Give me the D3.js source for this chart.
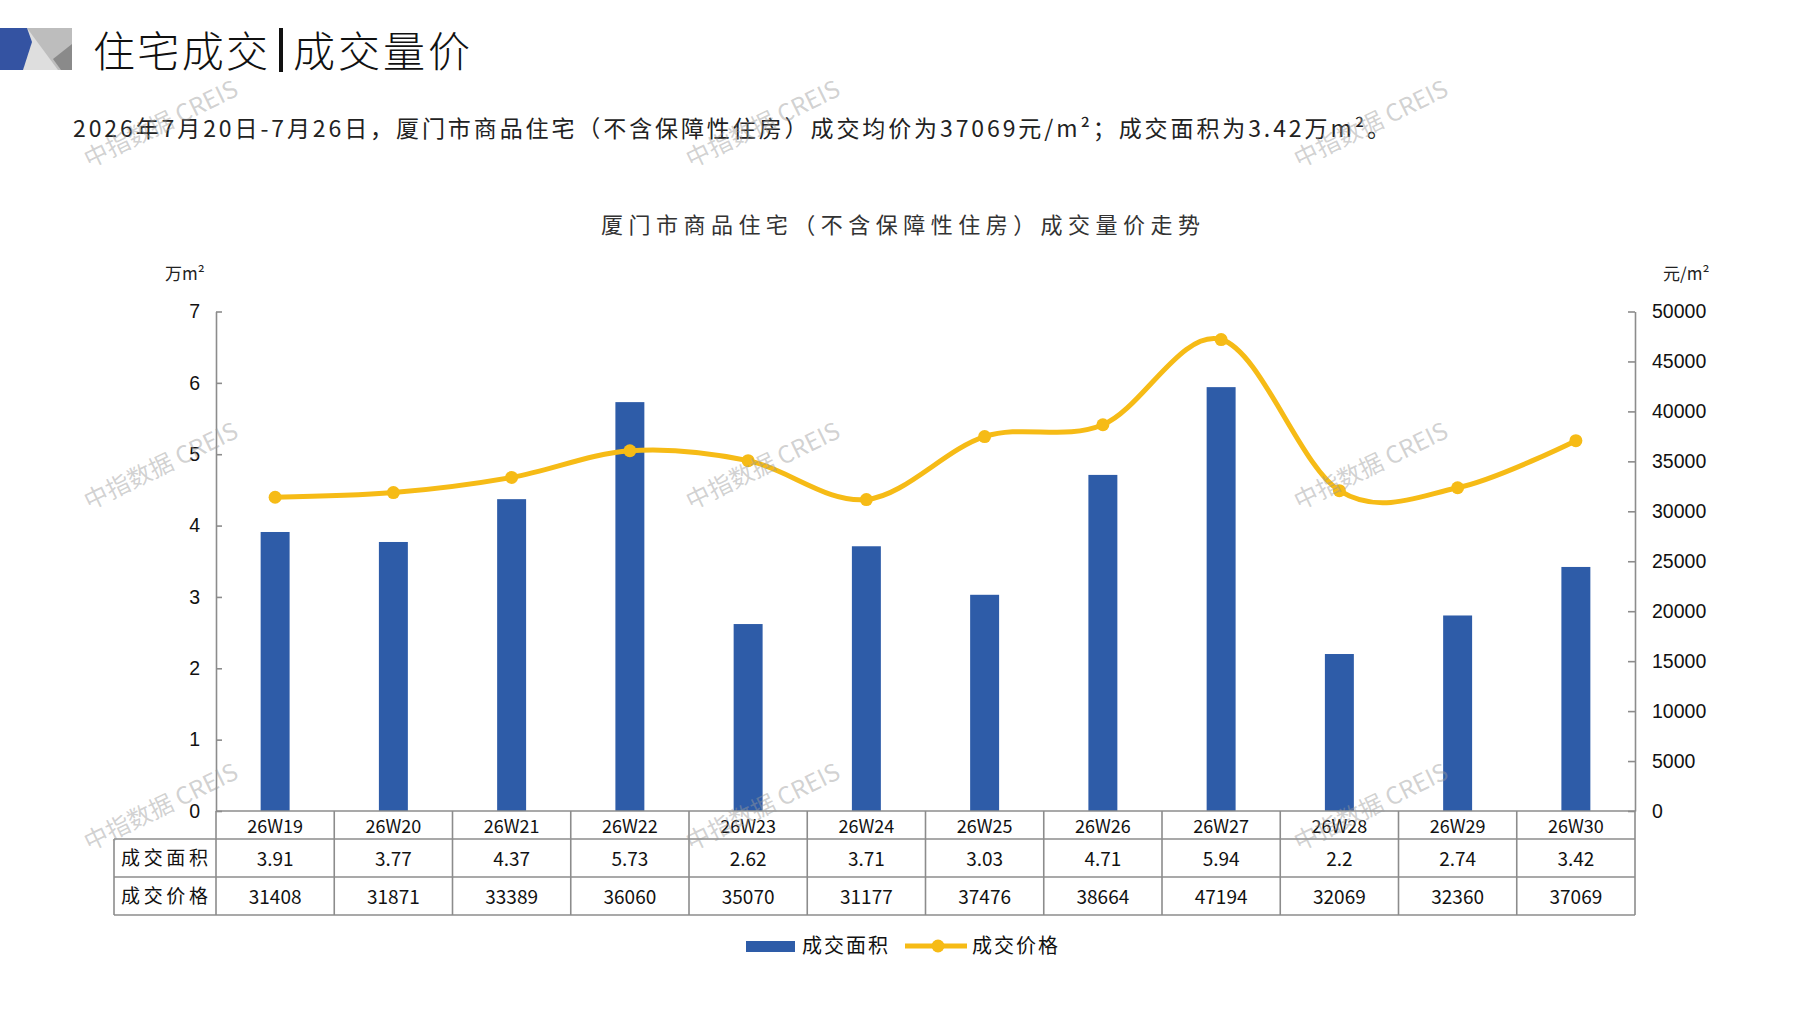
<!DOCTYPE html>
<html>
<head>
<meta charset="utf-8">
<script src="https://cdn.jsdelivr.net/npm/d3@7"></script>
<style>
body { margin: 0; background: #fff; }
svg { display: block; }
</style>
</head>
<body>
<svg id="chart" width="1797" height="1010"></svg>
<script>
// data (table under the chart)
var weeks = ["26W19", "26W20", "26W21", "26W22", "26W23", "26W24", "26W25", "26W26", "26W27", "26W28", "26W29", "26W30"];
var area = [3.91, 3.77, 4.37, 5.73, 2.62, 3.71, 3.03, 4.71, 5.94, 2.2, 2.74, 3.42];
var price = [31408, 31871, 33389, 36060, 35070, 31177, 37476, 38664, 47194, 32069, 32360, 37069];
var areaTicks = [0, 1, 2, 3, 4, 5, 6, 7];
var priceTicks = [0, 5000, 10000, 15000, 20000, 25000, 30000, 35000, 40000, 45000, 50000];
var rowNames = ["成交面积", "成交价格"];
var seriesNames = ["成交面积", "成交价格"];

var blue = "#2e5ca8", yellow = "#f6bb16", grid = "#8c8c8c";
var cjk = "'Noto Sans CJK SC', 'Noto Sans', sans-serif";
var latin = "'Liberation Sans', Arial, sans-serif";

var svg = d3.select("#chart");

// plot box
var plotL = 216, plotR = 1635, plotT = 311.5, plotB = 811;
var rowH = [28, 38, 38];          // category row, area row, price row
var tableLeft = 114;

var x = d3.scaleBand().domain(weeks).range([plotL, plotR]).padding(0);
var bw = x.bandwidth();
var yL = d3.scaleLinear().domain([0, 7]).range([plotB, plotT]);
var yR = d3.scaleLinear().domain([0, 50000]).range([plotB, plotT]);

// ---- header ----
var logo = svg.append("g");
logo.append("rect").attr("x", 22).attr("y", 28).attr("width", 50).attr("height", 42).attr("fill", "#bdbdbd");
logo.append("polygon").attr("points", "22,28 27,28 58,70 22,70").attr("fill", "#dedede");
logo.append("polygon").attr("points", "72,44 72,70 61,70 53,59").attr("fill", "#8a8a8a");
logo.append("polygon").attr("points", "0,28 27,28 32,42 23,70 0,70").attr("fill", "#3453a2");

svg.append("text").attr("x", 93).attr("y", 48)
  .attr("dominant-baseline", "central")
  .attr("textLength", 175).attr("lengthAdjust", "spacing")
  .style("font-family", cjk).style("font-size", "42px").style("font-weight", 300).attr("fill", "#111")
  .text("住宅成交");
svg.append("rect").attr("x", 279).attr("y", 28).attr("width", 4).attr("height", 44).attr("fill", "#111");
svg.append("text").attr("x", 293).attr("y", 48)
  .attr("dominant-baseline", "central")
  .attr("textLength", 177).attr("lengthAdjust", "spacing")
  .style("font-family", cjk).style("font-size", "42px").style("font-weight", 300).attr("fill", "#111")
  .text("成交量价");

svg.append("text").attr("x", 73).attr("y", 126.5)
  .attr("dominant-baseline", "central")
  .attr("textLength", 1317).attr("lengthAdjust", "spacing")
  .style("font-family", cjk).style("font-size", "23px").attr("fill", "#222")
  .text("2026年7月20日-7月26日，厦门市商品住宅（不含保障性住房）成交均价为37069元/m²；成交面积为3.42万m²。");

svg.append("text").attr("x", 601).attr("y", 223)
  .attr("dominant-baseline", "central")
  .attr("textLength", 599).attr("lengthAdjust", "spacing")
  .style("font-family", cjk).style("font-size", "22px").attr("fill", "#333")
  .text("厦门市商品住宅（不含保障性住房）成交量价走势");

// axis unit labels
svg.append("text").attr("x", 165).attr("y", 272.5).attr("dominant-baseline", "central")
  .style("font-family", cjk).style("font-size", "17px").attr("fill", "#222").text("万m²");
svg.append("text").attr("x", 1663).attr("y", 272.5).attr("dominant-baseline", "central")
  .style("font-family", cjk).style("font-size", "17px").attr("fill", "#222").text("元/m²");

// ---- bars ----
var barW = bw * 0.245;
svg.append("g").selectAll("rect").data(area).join("rect")
  .attr("x", (d, i) => x(weeks[i]) + (bw - barW) / 2)
  .attr("y", d => yL(d))
  .attr("width", barW)
  .attr("height", d => yL(0) - yL(d))
  .attr("fill", blue);

// ---- price line (smoothed like the office chart) ----
var line = d3.line()
  .x((d, i) => x(weeks[i]) + bw / 2)
  .y(d => yR(d))
  .curve(d3.curveCardinal.tension(0));
svg.append("path").datum(price)
  .attr("d", line)
  .attr("fill", "none").attr("stroke", yellow).attr("stroke-width", 5);
svg.append("g").selectAll("circle").data(price).join("circle")
  .attr("cx", (d, i) => x(weeks[i]) + bw / 2)
  .attr("cy", d => yR(d))
  .attr("r", 6.5)
  .attr("fill", yellow);

// ---- axes ----
var axL = svg.append("g").attr("transform", "translate(" + plotL + ",0)")
  .call(d3.axisLeft(yL).tickValues(areaTicks).tickFormat(d3.format("d")).tickSize(-6).tickSizeOuter(0).tickPadding(16));
var axR = svg.append("g").attr("transform", "translate(" + plotR + ",0)")
  .call(d3.axisRight(yR).tickValues(priceTicks).tickFormat(d3.format("d")).tickSize(-7).tickSizeOuter(0).tickPadding(17));
[axL, axR].forEach(function (ax) {
  ax.select(".domain").attr("stroke", grid).attr("stroke-width", 1.6);
  ax.selectAll(".tick line").attr("stroke", grid).attr("stroke-width", 1.6);
  ax.selectAll(".tick text").style("font-family", latin).style("font-size", "19.5px").attr("fill", "#111");
});

// ---- data table ----
var t = svg.append("g");
var y0 = plotB, y1 = plotB + rowH[0], y2 = y1 + rowH[1], y3 = y2 + rowH[2];
function hline(xa, xb, yy) {
  t.append("line").attr("x1", xa).attr("x2", xb).attr("y1", yy).attr("y2", yy)
    .attr("stroke", grid).attr("stroke-width", 1.6);
}
hline(plotL, plotR, y0);
hline(tableLeft, plotR, y1);
hline(tableLeft, plotR, y2);
hline(tableLeft, plotR, y3);
var edges = weeks.map(w => x(w)).concat([plotR]);
t.selectAll("line.v").data(edges).join("line").attr("class", "v")
  .attr("x1", d => d).attr("x2", d => d).attr("y1", y0).attr("y2", y3)
  .attr("stroke", grid).attr("stroke-width", 1.6);
t.append("line").attr("x1", tableLeft).attr("x2", tableLeft).attr("y1", y1).attr("y2", y3)
  .attr("stroke", grid).attr("stroke-width", 1.6);

t.selectAll("text.cat").data(weeks).join("text").attr("class", "cat")
  .attr("x", d => x(d) + bw / 2).attr("y", (y0 + y1) / 2)
  .attr("text-anchor", "middle").attr("dominant-baseline", "central")
  .style("font-family", cjk).style("font-size", "18px").attr("fill", "#111")
  .text(d => d);
t.selectAll("text.area").data(area).join("text").attr("class", "area")
  .attr("x", (d, i) => x(weeks[i]) + bw / 2).attr("y", (y1 + y2) / 2 - 0.5)
  .attr("text-anchor", "middle").attr("dominant-baseline", "central")
  .style("font-family", cjk).style("font-size", "19px").attr("fill", "#111")
  .text(d => String(d));
t.selectAll("text.price").data(price).join("text").attr("class", "price")
  .attr("x", (d, i) => x(weeks[i]) + bw / 2).attr("y", (y2 + y3) / 2 - 0.5)
  .attr("text-anchor", "middle").attr("dominant-baseline", "central")
  .style("font-family", cjk).style("font-size", "19px").attr("fill", "#111")
  .text(d => String(d));
t.selectAll("text.row").data(rowNames).join("text").attr("class", "row")
  .attr("x", 121).attr("y", (d, i) => (i === 0 ? (y1 + y2) / 2 : (y2 + y3) / 2) - 1.5)
  .attr("dominant-baseline", "central")
  .attr("textLength", 87).attr("lengthAdjust", "spacing")
  .style("font-family", cjk).style("font-size", "19px").attr("fill", "#111")
  .text(d => d);

// ---- legend ----
var lg = svg.append("g");
lg.append("rect").attr("x", 746).attr("y", 941).attr("width", 49).attr("height", 11).attr("fill", blue);
lg.append("text").attr("x", 802).attr("y", 944.5).attr("dominant-baseline", "central")
  .attr("textLength", 86).attr("lengthAdjust", "spacing")
  .style("font-family", cjk).style("font-size", "20px").attr("fill", "#111").text(seriesNames[0]);
lg.append("line").attr("x1", 905).attr("x2", 967).attr("y1", 946).attr("y2", 946)
  .attr("stroke", yellow).attr("stroke-width", 5);
lg.append("circle").attr("cx", 938).attr("cy", 946).attr("r", 6.5).attr("fill", yellow);
lg.append("text").attr("x", 972).attr("y", 944.5).attr("dominant-baseline", "central")
  .attr("textLength", 86).attr("lengthAdjust", "spacing")
  .style("font-family", cjk).style("font-size", "20px").attr("fill", "#111").text(seriesNames[1]);

// ---- watermarks ----
var wmX = [160, 762, 1370], wmY = [122, 464, 805];
var wm = svg.append("g").attr("pointer-events", "none");
wmY.forEach(function (yy) {
  wmX.forEach(function (xx) {
    wm.append("text")
      .attr("transform", "translate(" + xx + "," + yy + ") rotate(-26)")
      .attr("text-anchor", "middle").attr("dominant-baseline", "central")
      .style("font-family", cjk).style("font-size", "24px")
      .attr("fill", "#9a9a9a").attr("fill-opacity", 0.45)
      .text("中指数据 CREIS");
  });
});
</script>
</body>
</html>
